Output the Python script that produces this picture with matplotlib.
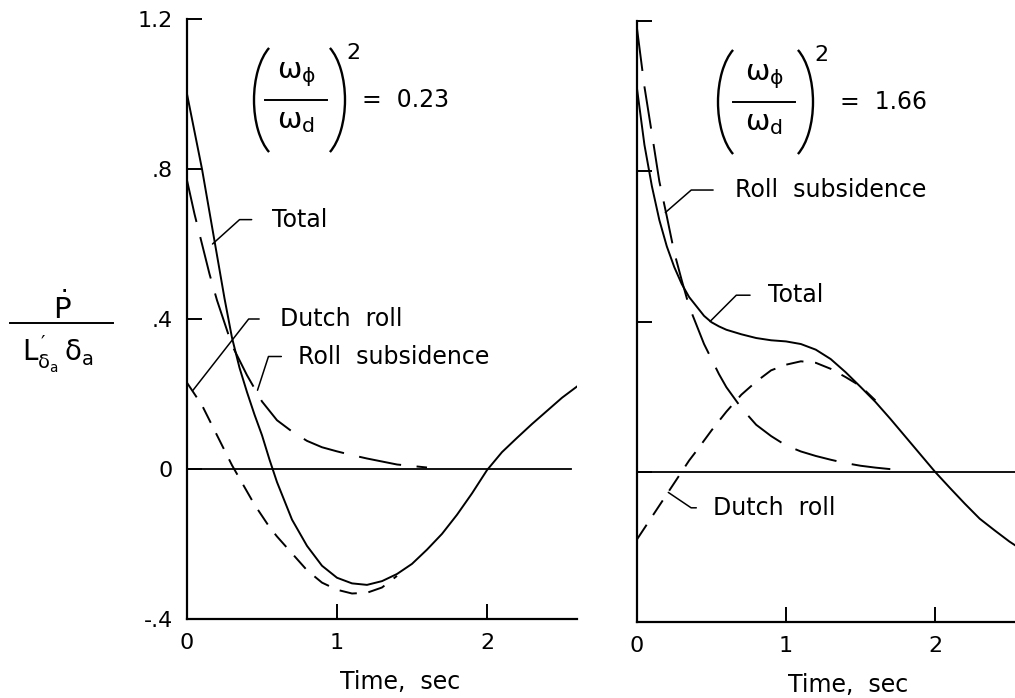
import matplotlib.pyplot as plt
from matplotlib.lines import Line2D
from matplotlib.patches import Arc

plt.rcParams['font.family'] = ['DejaVu Sans']
plt.rcParams['mathtext.fontset'] = 'dejavusans'
plt.rcParams['mathtext.default'] = 'regular'

# ---- data ---------------------------------------------------------------
t = [0.0, 0.05, 0.1, 0.15, 0.2, 0.25, 0.3, 0.35, 0.4, 0.45, 0.5, 0.55, 0.6,
     0.7, 0.8, 0.9, 1.0, 1.1, 1.2, 1.3, 1.4, 1.5, 1.6, 1.7, 1.8, 1.9, 2.0,
     2.1, 2.2, 2.3, 2.4, 2.5, 2.6]

# left panel, (w_phi / w_d)^2 = 0.23
total_left = [1.0, 0.90, 0.80, 0.685, 0.57, 0.455, 0.35, 0.27, 0.205, 0.145,
              0.09, 0.025, -0.035, -0.135, -0.205, -0.258, -0.29, -0.305,
              -0.309, -0.299, -0.28, -0.253, -0.215, -0.173, -0.122, -0.065,
              -0.003, 0.045, 0.083, 0.12, 0.155, 0.19, 0.22]
dutch_left = [0.23, 0.20, 0.17, 0.13, 0.09, 0.05, 0.01, -0.025, -0.06,
              -0.095, -0.125, -0.155, -0.18, -0.225, -0.27, -0.303, -0.322,
              -0.332, -0.33, -0.316, -0.285]
roll_left = [0.77, 0.68, 0.60, 0.52, 0.45, 0.39, 0.33, 0.29, 0.25, 0.215,
             0.18, 0.155, 0.13, 0.10, 0.075, 0.058, 0.047, 0.037, 0.028,
             0.02, 0.012, 0.008, 0.004]

# right panel, (w_phi / w_d)^2 = 1.66
total_right = [1.02, 0.87, 0.76, 0.67, 0.60, 0.545, 0.50, 0.465, 0.44, 0.415,
               0.398, 0.387, 0.378, 0.366, 0.356, 0.35, 0.347, 0.34, 0.325,
               0.30, 0.265, 0.226, 0.186, 0.141, 0.094, 0.047, 0.0, -0.043,
               -0.085, -0.125, -0.156, -0.186, -0.212]
dutch_right = [-0.18, -0.15, -0.12, -0.09, -0.06, -0.03, 0.0, 0.03, 0.056,
               0.083, 0.11, 0.135, 0.16, 0.205, 0.24, 0.27, 0.285, 0.294,
               0.29, 0.274, 0.252, 0.228, 0.19]
roll_right = [1.18, 1.025, 0.90, 0.773, 0.68, 0.584, 0.51, 0.44, 0.39, 0.34,
              0.30, 0.26, 0.225, 0.17, 0.125, 0.095, 0.07, 0.054, 0.042,
              0.032, 0.023, 0.016, 0.011, 0.007]

y_ticks = [-0.4, 0.0, 0.4, 0.8, 1.2]
y_tick_labels = ['-.4', '0', '.4', '.8', '1.2']
x_ticks = [0, 1, 2]
x_tick_labels = ['0', '1', '2']

LONG = (22, 8)
SHORT = (9, 6)
LW = 1.4
FS = 17
W, H = 1015, 698


def fx(x):
    return x / W


def fy(y):
    return 1 - y / H


def style_axes(ax, show_ylabels):
    ax.set_xlim(0, 2.6)
    ax.set_ylim(-0.4, 1.2)
    for side in ('top', 'right'):
        ax.spines[side].set_visible(False)
    for side in ('left', 'bottom'):
        ax.spines[side].set_linewidth(1.6)
    ax.set_xticks(x_ticks, x_tick_labels)
    ax.set_yticks(y_ticks, y_tick_labels if show_ylabels else [])
    ax.tick_params(direction='in', length=11, width=1.4, labelsize=16)
    ax.tick_params(axis='x', pad=10)
    ax.tick_params(axis='y', pad=10)
    ax.axhline(0, xmax=0.985, color='black', lw=1.3)
    ax.set_xlabel('Time,  sec', fontsize=FS)
    ax.xaxis.set_label_coords(1.42 / 2.6, -0.085)
    ax.patch.set_alpha(0)


def leader(ax, text, xy, xytext, angle, gap):
    ax.annotate(text, xy=xy, xytext=xytext, fontsize=FS, va='center',
                ha='left',
                arrowprops=dict(arrowstyle='-', lw=1.1, color='black',
                                connectionstyle='angle,angleA=0,angleB=%d,rad=0' % angle,
                                relpos=(0, 0.5), shrinkA=gap, shrinkB=0))


def ratio_label(cx, cy, lp, rp, value, vx):
    # (w_phi / w_d)^2 = value, placed in figure pixels around the bar centre
    fig.text(fx(cx), fy(cy - 22), r'$\omega_\phi$', fontsize=21,
             ha='center', va='baseline')
    fig.text(fx(cx), fy(cy + 28), r'$\omega_d$', fontsize=21,
             ha='center', va='baseline')
    fig.add_artist(Line2D([fx(cx - 31), fx(cx + 31)], [fy(cy), fy(cy)],
                          transform=fig.transFigure, color='black', lw=1.4))
    inch = fig.dpi_scale_trans
    fig.add_artist(Arc(((lp + 30) / 100, (H - cy) / 100), 0.6, 1.2,
                       theta1=106, theta2=254, transform=inch, lw=1.7))
    fig.add_artist(Arc(((rp - 30) / 100, (H - cy) / 100), 0.6, 1.2,
                       theta1=-74, theta2=74, transform=inch, lw=1.7))
    fig.text(fx(rp + 1), fy(cy - 47), '2', fontsize=16, ha='left',
             va='center')
    fig.text(fx(vx), fy(cy), '=  ' + value, fontsize=FS, ha='left',
             va='center')


fig = plt.figure(figsize=(10.15, 6.98), dpi=100)

# ---- left panel ----------------------------------------------------------
ax1 = fig.add_axes([187 / W, 79 / H, 390 / W, 600 / H])
style_axes(ax1, True)
ax1.plot(t, total_left, color='black', lw=LW)
ax1.plot(t[:len(dutch_left)], dutch_left, color='black', lw=LW,
         dashes=SHORT)
ax1.plot(t[:len(roll_left)], roll_left, color='black', lw=LW,
         dashes=LONG)

ratio_label(296, 100, 254, 345, '0.23', 362)
leader(ax1, 'Total', (0.17, 0.60), (0.57, 0.665), 42, 13)
leader(ax1, 'Dutch  roll', (0.04, 0.21), (0.62, 0.40), 52, 13)
leader(ax1, 'Roll  subsidence', (0.47, 0.21), (0.74, 0.30), 72, 10)

# y label: P dot over L'_{delta_a} delta_a
fig.text(fx(62), fy(319), r'$\dot{P}$', fontsize=21, ha='center',
         va='baseline')
fig.add_artist(Line2D([fx(10), fx(113)], [fy(323), fy(323)],
                      transform=fig.transFigure, color='black', lw=1.4))
fig.text(fx(58), fy(362), r"$L_{\delta_a}^{\,\prime}\,\delta_a$", fontsize=20,
         ha='center', va='baseline')

# ---- right panel ---------------------------------------------------------
ax2 = fig.add_axes([637 / W, 76 / H, 2.6 * 149 / W, 601 / H])
style_axes(ax2, False)
ax2.plot(t, total_right, color='black', lw=LW)
ax2.plot(t[:len(dutch_right)], dutch_right, color='black', lw=LW,
         dashes=SHORT)
ax2.plot(t[:len(roll_right)], roll_right, color='black', lw=LW,
         dashes=LONG)

ratio_label(764, 102, 718, 813, '1.66', 840)
leader(ax2, 'Roll  subsidence', (0.19, 0.69), (0.66, 0.75), 41, 14)
leader(ax2, 'Total', (0.49, 0.40), (0.88, 0.47), 45, 11)
leader(ax2, 'Dutch  roll', (0.21, -0.055), (0.51, -0.096), -34, 10)

fig.savefig('out.png', dpi=100)
